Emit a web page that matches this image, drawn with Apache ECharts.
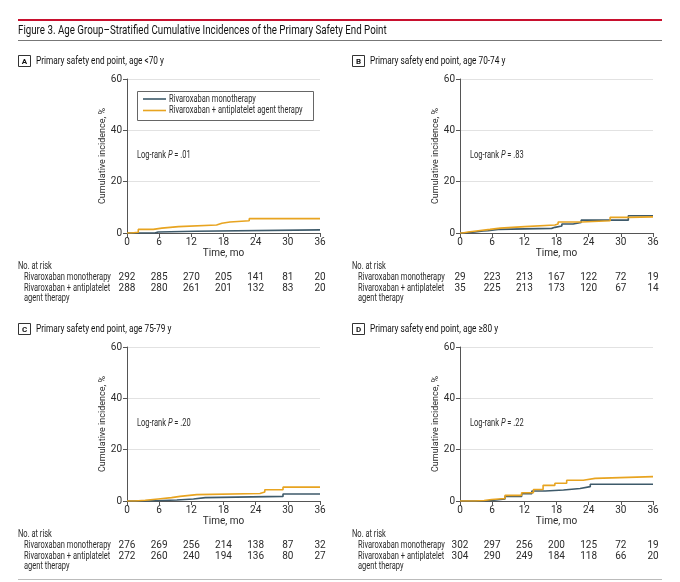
<!DOCTYPE html>
<html>
<head>
<meta charset="utf-8">
<script src="https://cdn.jsdelivr.net/npm/echarts@6/dist/echarts.min.js"></script>
<style>
  html, body { margin: 0; padding: 0; background: #fff; }
  #chart { width: 680px; height: 582px; }
</style>
</head>
<body>
<div id="chart"></div>
<script>
// time in months, cumulative incidence in %
var monoA = [[0, 0], [5.2, 0.4], [5.8, 0.7], [12.7, 1.2], [36, 1.2]];
var antiA = [[0, 0], [0.8, 0.3], [2.1, 1.4], [4.9, 1.9], [6.5, 2.5], [9.6, 3.1], [16.7, 3.8], [17.7, 4.3], [19.2, 4.8], [22.8, 5.6], [36, 5.6]];
var monoB = [[0, 0], [0.9, 0.4], [2.8, 0.8], [4.3, 0.9], [5.2, 1.4], [7.1, 1.8], [17.1, 2.2], [17.7, 2.7], [19, 3.5], [21.1, 4.1], [22.6, 5.0], [31.4, 6.7], [36, 6.7]];
var antiB = [[0, 0], [0.5, 0.4], [1.5, 0.9], [3.4, 1.4], [5.6, 1.9], [7.5, 2.5], [12.1, 3.1], [17.7, 3.5], [18.3, 4.3], [22.7, 4.8], [28, 6.1], [31.4, 6.3], [36, 6.3]];
var monoC = [[0, 0], [4, 0.4], [9.3, 0.8], [12.4, 1.3], [14.6, 1.8], [29.1, 2.7], [36, 2.7]];
var antiC = [[0, 0], [1.5, 0.3], [3.4, 0.8], [5.8, 1.3], [8.3, 1.8], [9.9, 2.5], [13, 2.9], [24.8, 3.5], [25.7, 4.4], [29.1, 5.4], [36, 5.4]];
var monoD = [[0, 0], [3.5, 0.2], [5.9, 0.8], [8.4, 1.8], [11.5, 2.8], [13.4, 3.9], [15.9, 4.3], [19.3, 4.9], [22.4, 5.6], [24.3, 6.5], [36, 6.5]];
var antiD = [[0, 0], [2.8, 0.2], [4.5, 0.6], [5.9, 1.0], [8.4, 2.2], [11.5, 3.2], [13.7, 4.5], [15.5, 6.1], [17.7, 6.9], [19.9, 8.1], [23, 8.8], [25.2, 9.5], [36, 9.5]];

var riskMonoA = [292, 285, 270, 205, 141, 81, 20];
var riskAntiA = [288, 280, 261, 201, 132, 83, 20];
var riskMonoB = [29, 223, 213, 167, 122, 72, 19];
var riskAntiB = [35, 225, 213, 173, 120, 67, 14];
var riskMonoC = [276, 269, 256, 214, 138, 87, 32];
var riskAntiC = [272, 260, 240, 194, 136, 80, 27];
var riskMonoD = [302, 297, 256, 200, 125, 72, 19];
var riskAntiD = [304, 290, 249, 184, 118, 66, 20];

var pValues = ['.01', '.83', '.20', '.22'];
var panelLetters = ['A', 'B', 'C', 'D'];
var panelTitles = [
  'Primary safety end point, age <70 y',
  'Primary safety end point, age 70-74 y',
  'Primary safety end point, age 75-79 y',
  'Primary safety end point, age \u226580 y'
];
var seriesNames = ['Rivaroxaban monotherapy', 'Rivaroxaban + antiplatelet agent therapy'];

var FONT = "Roboto, 'Liberation Sans', sans-serif";
var TXT = '#2b2b2b';
var MONO_COLOR = '#3e5a6a';
var ANTI_COLOR = '#e8a420';
var SX = 0.75; // squeeze free text to look like the condensed original

var panels = [
  { left: 127, top: 79, mono: monoA, anti: antiA, rm: riskMonoA, ra: riskAntiA },
  { left: 460, top: 79, mono: monoB, anti: antiB, rm: riskMonoB, ra: riskAntiB },
  { left: 127, top: 347, mono: monoC, anti: antiC, rm: riskMonoC, ra: riskAntiC },
  { left: 460, top: 347, mono: monoD, anti: antiD, rm: riskMonoD, ra: riskAntiD }
];

var W = 193, H = 154;
var grid = [], xAxis = [], yAxis = [], series = [], graphic = [];

function label(x, y, text, size, extra) {
  var style = { text: text, font: size + 'px ' + FONT, fill: TXT, verticalAlign: 'middle' };
  for (var k in extra) style[k] = extra[k];
  return { type: 'text', x: x, y: y, scaleX: SX, style: style, z: 10 };
}

graphic.push({ type: 'rect', shape: { x: 18, y: 19, width: 644, height: 2 }, style: { fill: '#c8102e' } });
graphic.push(label(18, 31, 'Figure 3. Age Group\u2013Stratified Cumulative Incidences of the Primary Safety End Point', 13, { fill: '#111' }));
graphic.push({ type: 'rect', shape: { x: 18, y: 40, width: 644, height: 1 }, style: { fill: '#777' } });
graphic.push({ type: 'rect', shape: { x: 18, y: 579, width: 644, height: 1 }, style: { fill: '#bbb' } });

// legend box in panel A
graphic.push({ type: 'rect', shape: { x: 137.5, y: 91.5, width: 176, height: 29 }, style: { fill: '#fff', stroke: '#666', lineWidth: 1 }, z: 9 });
graphic.push({ type: 'line', shape: { x1: 143, y1: 99, x2: 166, y2: 99 }, style: { stroke: MONO_COLOR, lineWidth: 1.6 }, z: 10 });
graphic.push({ type: 'line', shape: { x1: 143, y1: 110.5, x2: 166, y2: 110.5 }, style: { stroke: ANTI_COLOR, lineWidth: 1.6 }, z: 10 });
graphic.push(label(169, 99, seriesNames[0], 10));
graphic.push(label(169, 110.5, seriesNames[1], 10));

function riskAxis(i, arr, offset) {
  return {
    type: 'value', gridIndex: i, min: 0, max: 36, interval: 6, position: 'bottom', offset: offset,
    axisLine: { show: false }, axisTick: { show: false }, splitLine: { show: false },
    axisLabel: {
      margin: 0, fontSize: 10, color: TXT, fontFamily: FONT, showMinLabel: true, showMaxLabel: true,
      formatter: function (v) { return String(arr[Math.round(v / 6)]); }
    }
  };
}

panels.forEach(function (p, i) {
  grid.push({ left: p.left, top: p.top, width: W, height: H });
  xAxis.push({
    type: 'value', gridIndex: i, min: 0, max: 36, interval: 6,
    name: 'Time, mo', nameLocation: 'middle', nameGap: 15,
    nameTextStyle: { fontSize: 10, color: TXT, fontFamily: FONT },
    axisLine: { lineStyle: { color: '#555', width: 1 } },
    axisTick: { length: 4, lineStyle: { color: '#555' } },
    splitLine: { show: false },
    axisLabel: { margin: 4, fontSize: 10, color: TXT, fontFamily: FONT }
  });
  xAxis.push(riskAxis(i, p.rm, 39));
  xAxis.push(riskAxis(i, p.ra, 50));
  yAxis.push({
    type: 'value', gridIndex: i, min: 0, max: 60, interval: 20,
    name: 'Cumulative incidence, %', nameLocation: 'middle', nameGap: 19,
    nameTextStyle: { fontSize: 9, color: TXT, fontFamily: FONT },
    axisLine: { show: true, lineStyle: { color: '#555', width: 1 } },
    axisTick: { show: true, length: 4, lineStyle: { color: '#555' } },
    splitLine: { show: true, lineStyle: { color: '#e2e2e2', width: 1 } },
    axisLabel: { margin: 5, fontSize: 10, color: TXT, fontFamily: FONT }
  });
  series.push({
    name: seriesNames[0], type: 'line', step: 'end', xAxisIndex: i * 3, yAxisIndex: i,
    data: p.mono, showSymbol: false, symbol: 'none', color: MONO_COLOR,
    lineStyle: { width: 1.6, color: MONO_COLOR }, z: 3
  });
  series.push({
    name: seriesNames[1], type: 'line', step: 'end', xAxisIndex: i * 3, yAxisIndex: i,
    data: p.anti, showSymbol: false, symbol: 'none', color: ANTI_COLOR,
    lineStyle: { width: 1.6, color: ANTI_COLOR }, z: 4
  });

  var bx = p.left === 127 ? 18 : 352;
  var by = p.top - 24;
  graphic.push({ type: 'rect', shape: { x: bx + 0.5, y: by + 0.5, width: 12, height: 11 }, style: { fill: '#fff', stroke: '#333', lineWidth: 1 } });
  graphic.push({ type: 'text', x: bx + 6.5, y: by + 6.5, style: { text: panelLetters[i], font: 'bold 8px ' + FONT, fill: '#111', align: 'center', verticalAlign: 'middle' } });
  graphic.push(label(bx + 18, by + 6.5, panelTitles[i], 11, { fill: '#111' }));

  graphic.push({
    type: 'text', x: p.left + 10, y: p.top + 76, scaleX: SX,
    style: {
      rich: {
        n: { font: '10px ' + FONT, fill: TXT },
        i: { font: 'italic 10px ' + FONT, fill: TXT }
      },
      text: '{n|Log-rank }{i|P}{n| = ' + pValues[i] + '}', verticalAlign: 'middle'
    }
  });

  var ty = p.top + H;
  graphic.push(label(bx, ty + 33, 'No. at risk', 10));
  graphic.push(label(bx + 6, ty + 44, 'Rivaroxaban monotherapy', 10));
  graphic.push(label(bx + 6, ty + 55, 'Rivaroxaban + antiplatelet', 10));
  graphic.push(label(bx + 6, ty + 65, 'agent therapy', 10));
});

var myChart = echarts.init(document.getElementById('chart'), null, { renderer: 'canvas' });
var option = {
  animation: false,
  backgroundColor: '#fff',
  textStyle: { fontFamily: FONT },
  grid: grid,
  xAxis: xAxis,
  yAxis: yAxis,
  series: series,
  graphic: graphic
};
myChart.setOption(option);
</script>
</body>
</html>
